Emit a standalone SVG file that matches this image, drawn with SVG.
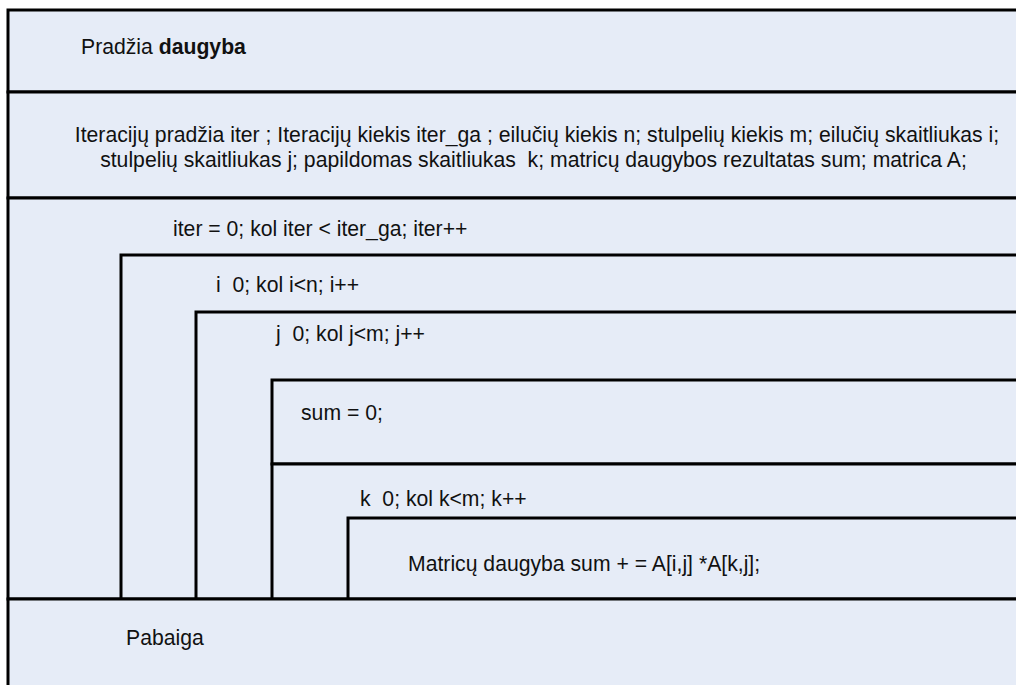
<svg xmlns="http://www.w3.org/2000/svg" width="1016" height="685" viewBox="0 0 1016 685">
<style>
.box{fill:#e6ecf7;stroke:#000;stroke-width:3}
.t{font-family:"Liberation Sans",Arial,sans-serif;font-size:21.2px;fill:#111;white-space:pre}
.b{font-weight:bold}
</style>
<rect x="0" y="0" width="1016" height="685" fill="#ffffff"/>
<g id="start">
<rect class="box" x="8" y="10" width="1014" height="82"/>
<text class="t" x="81" y="54">Pradžia <tspan class="b">daugyba</tspan></text>
</g>
<g id="declarations">
<rect class="box" x="8" y="92" width="1014" height="106"/>
<text class="t" x="537" y="142" text-anchor="middle">Iteracijų pradžia iter ; Iteracijų kiekis iter_ga ; eilučių kiekis n; stulpelių kiekis m; eilučių skaitliukas i;</text>
<text class="t" x="533.5" y="167" text-anchor="middle">stulpelių skaitliukas j; papildomas skaitliukas  k; matricų daugybos rezultatas sum; matrica A;</text>
</g>
<g id="loop-iter">
<rect class="box" x="8" y="198" width="1014" height="401"/>
<text class="t" x="173" y="236">iter = 0; kol iter &lt; iter_ga; iter++</text>
</g>
<g id="loop-i">
<rect class="box" x="121" y="255" width="901" height="344"/>
<text class="t" x="216" y="292">i  0; kol i&lt;n; i++</text>
</g>
<g id="loop-j">
<rect class="box" x="196" y="312" width="826" height="287"/>
<text class="t" x="276" y="341">j  0; kol j&lt;m; j++</text>
</g>
<g id="sum-init">
<rect class="box" x="272" y="380" width="750" height="84"/>
<text class="t" x="301" y="420">sum = 0;</text>
</g>
<g id="loop-k">
<rect class="box" x="272" y="464" width="750" height="135"/>
<text class="t" x="360" y="506">k  0; kol k&lt;m; k++</text>
</g>
<g id="multiply">
<rect class="box" x="348" y="518" width="674" height="81"/>
<text class="t" x="408" y="571">Matricų daugyba sum + = A[i,j] *A[k,j];</text>
</g>
<g id="end">
<rect class="box" x="8" y="599" width="1014" height="100"/>
<text class="t" x="126" y="645">Pabaiga</text>
</g>
<g id="connectors"></g>
</svg>
